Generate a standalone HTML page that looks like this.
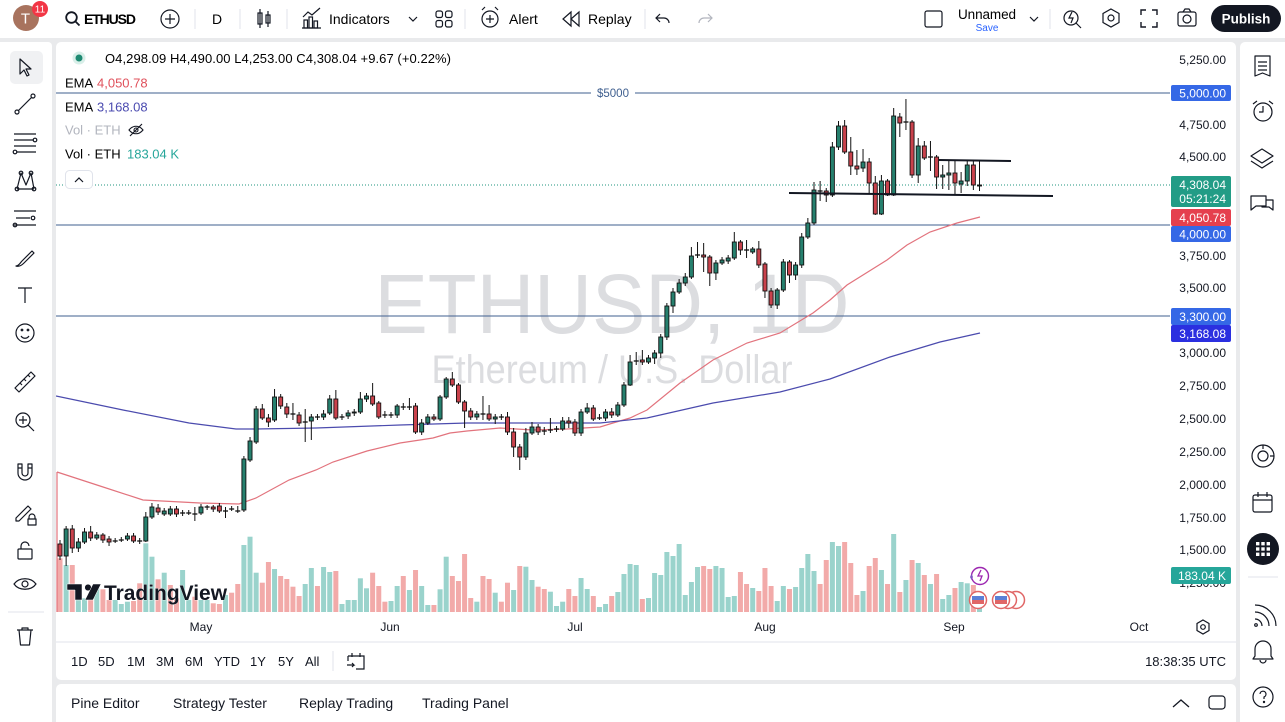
<!DOCTYPE html>
<html><head><meta charset="utf-8">
<style>
*{margin:0;padding:0;box-sizing:border-box}
body{width:1285px;height:722px;overflow:hidden;background:#e9eaec;font-family:"Liberation Sans",Arial,sans-serif;color:#131722;position:relative}
.p{position:absolute;background:#fff}
svg{position:absolute;left:0;top:0}
</style></head><body>
<div class="p" style="left:0;top:0;width:1285px;height:38px"></div>
<div class="p" style="left:0;top:42px;width:52px;height:680px;border-radius:0 4px 0 0"></div>
<div class="p" style="left:56px;top:42px;width:1180px;height:638px;border-radius:5px"></div>
<div class="p" style="left:56px;top:684px;width:1180px;height:38px;border-radius:5px 5px 0 0"></div>
<div class="p" style="left:1240px;top:42px;width:45px;height:680px;border-radius:5px 0 0 0"></div>
<svg width="1285" height="722" viewBox="0 0 1285 722" font-family="Liberation Sans, Arial, sans-serif">
<defs><clipPath id="cp"><rect x="56" y="42" width="1114" height="572"/></clipPath></defs>

<!-- TOP BAR -->
<circle cx="26" cy="18" r="13" fill="#a8735e"/>
<text x="25.5" y="23.5" font-size="15" fill="#fff" text-anchor="middle">T</text>
<circle cx="40" cy="9" r="8" fill="#f23645"/>
<text x="40" y="12.5" font-size="10" fill="#fff" text-anchor="middle">11</text>
<circle cx="71.5" cy="17.5" r="5.3" fill="none" stroke="#131722" stroke-width="1.8"/>
<line x1="75.5" y1="21.5" x2="79.5" y2="25.5" stroke="#131722" stroke-width="1.8"/>
<text x="84" y="24" font-size="14" font-weight="bold" textLength="52">ETHUSD</text>
<circle cx="170" cy="19" r="9" fill="none" stroke="#131722" stroke-width="1.2"/>
<path d="M170 14v10M165 19h10" stroke="#131722" stroke-width="1.2"/>
<g stroke="#e0e3eb" stroke-width="1"><line x1="195" y1="9" x2="195" y2="29"/><line x1="240" y1="9" x2="240" y2="29"/><line x1="287" y1="9" x2="287" y2="29"/><line x1="465" y1="9" x2="465" y2="29"/><line x1="645" y1="9" x2="645" y2="29"/><line x1="1050" y1="9" x2="1050" y2="29"/></g>
<text x="217" y="24" font-size="14" text-anchor="middle">D</text>
<g stroke="#131722" stroke-width="1.2" fill="none"><path d="M260 9v19M268 11v16"/><rect x="258" y="13" width="4" height="11"/><rect x="266" y="15" width="4" height="8"/></g>
<g stroke="#131722" stroke-width="1.2" fill="none"><path d="M303 17l5-5 4 3 8-7"/><rect x="304" y="20" width="3.5" height="8"/><rect x="309" y="17" width="3.5" height="11"/><rect x="314" y="21" width="3.5" height="7"/><path d="M302 28h19"/></g>
<text x="329" y="24" font-size="14">Indicators</text>
<path d="M409 17l4 4 4-4" stroke="#131722" fill="none" stroke-width="1.2"/>
<g stroke="#131722" stroke-width="1.2" fill="none"><rect x="436" y="11" width="6.5" height="6.5" rx="2"/><rect x="445.5" y="11" width="6.5" height="6.5" rx="2"/><rect x="436" y="20.5" width="6.5" height="6.5" rx="2"/><rect x="445.5" y="20.5" width="6.5" height="6.5" rx="2"/></g>
<g stroke="#131722" stroke-width="1.2" fill="none"><circle cx="490" cy="19" r="8"/><path d="M490 15v8M486 19h8M482 10l3-3M498 10l-3-3"/></g>
<text x="509" y="24" font-size="14">Alert</text>
<g stroke="#131722" stroke-width="1.2" fill="none"><path d="M571 12l-8 7 8 7zM579 12l-8 7 8 7z"/></g>
<text x="588" y="24" font-size="14">Replay</text>
<path d="M660 14l-4 4 4 4M656 18h8a5 5 0 0 1 5 5" stroke="#131722" fill="none" stroke-width="1.2"/>
<path d="M708 14l4 4-4 4M712 18h-8a5 5 0 0 0-5 5" stroke="#b2b5be" fill="none" stroke-width="1.2"/>
<rect x="925" y="11" width="17" height="16" rx="2" fill="none" stroke="#131722" stroke-width="1.2"/>
<text x="958" y="19" font-size="13.5" textLength="58">Unnamed</text>
<text x="987" y="31" font-size="10" fill="#2962ff" text-anchor="middle">Save</text>
<path d="M1030 17l4 4 4-4" stroke="#131722" fill="none" stroke-width="1.2"/>
<g stroke="#131722" stroke-width="1.2" fill="none"><circle cx="1071" cy="18" r="7"/><path d="M1076 23l5 5M1072 12l-3 6h4l-2 5"/></g>
<g stroke="#131722" stroke-width="1.2" fill="none"><path d="M1111 9l8 4.5v9l-8 4.5-8-4.5v-9z"/><circle cx="1111" cy="18" r="3"/></g>
<g stroke="#131722" stroke-width="1.4" fill="none"><path d="M1141 15v-5h5M1152 10h5v5M1157 22v5h-5M1146 27h-5v-5"/></g>
<g stroke="#131722" stroke-width="1.2" fill="none"><rect x="1178" y="12" width="18" height="14" rx="2"/><circle cx="1187" cy="19" r="4"/><path d="M1183 12l2-3h4l2 3"/></g>
<rect x="1211" y="5" width="70" height="27" rx="13.5" fill="#131722"/>
<text x="1246" y="23.5" font-size="13.5" font-weight="bold" fill="#fff" text-anchor="middle">Publish</text>

<!-- LEFT TOOLBAR -->
<rect x="10" y="51" width="33" height="33" rx="5" fill="#f0f1f3"/>
<g stroke="#131722" stroke-width="1.2" fill="none" stroke-linejoin="round">
<path d="M20 59v15l4-4 3 6 2-1-3-6h5z"/>
<path d="M18 111l14-14"/><circle cx="17" cy="112" r="2"/><circle cx="33" cy="96" r="2"/>
<path d="M14 134h22M14 140h19M14 146h22M17 152h19"/><circle cx="35" cy="140" r="1.8"/><circle cx="15" cy="152" r="1.8"/>
<path d="M17 189l4-16 5 12 5-12 3 16M17 189l17 0"/><circle cx="17" cy="189" r="1.8"/><circle cx="21" cy="173" r="1.8"/><circle cx="31" cy="173" r="1.8"/><circle cx="34" cy="189" r="1.8"/>
<path d="M14 211h22M16 218h14M14 225h22"/><circle cx="33" cy="218" r="1.8"/><circle cx="15" cy="225" r="1.8"/>
<path d="M16 266c3 0 4-3 6-5l10-10 2 2-10 10c-2 2-5 4-8 3z"/>
<path d="M18 288h14M25 288v15"/>
<circle cx="25" cy="333" r="9"/><circle cx="22" cy="330" r=".8"/><circle cx="28" cy="330" r=".8"/><path d="M21 336c2 3 6 3 8 0"/>
<path d="M15 388l16-16 4 4-16 16zM20 383l2 2M24 379l2 2M28 375l2 2"/>
<circle cx="23" cy="420" r="7"/><path d="M28 425l6 6M23 416v8M19 420h8"/>
<path d="M18 464v9a7 7 0 0 0 14 0v-9h-4v9a3 3 0 0 1-6 0v-9zM18 468h4M28 468h4"/>
<path d="M16 518l12-12 3 3-12 12h-3zM29 519h6v-2a3 3 0 0 0-6 0zM28 519h8v6h-8z"/>
<rect x="18" y="549" width="14" height="10" rx="1"/><path d="M21 549v-3a4 4 0 0 1 8 0"/>
<path d="M14 584c5-7 17-7 22 0-5 7-17 7-22 0z"/><circle cx="25" cy="584" r="3"/>
<path d="M17 630h16M22 630v-2h6v2M19 630l1.5 15h9l1.5-15"/>
</g>
<line x1="8" y1="612" x2="44" y2="612" stroke="#e0e3eb"/>

<!-- RIGHT SIDEBAR -->
<g stroke="#131722" stroke-width="1.2" fill="none" stroke-linejoin="round">
<path d="M1255 56h15v20l-7.5-3-7.5 3zM1258 62h9M1258 66h9M1258 70h9"/>
<circle cx="1263" cy="112" r="9"/><path d="M1263 106v6h-4M1253 104l4-3M1273 104l-4-3"/>
<path d="M1262 149l11 7-11 7-11-7zM1251 161l11 7 11-7"/>
<path d="M1251 196h15v10h-10l-5 4zM1266 200h7v10l-4-3h-7v-1"/>
<circle cx="1263" cy="456" r="11"/><circle cx="1263" cy="456" r="5"/><path d="M1263 445v4M1274 456h-4"/>
<rect x="1253" y="495" width="19" height="17" rx="2"/><path d="M1253 500h19M1258 492v5M1267 492v5"/>
<path d="M1255 612a14 14 0 0 1 14 14M1255 605a21 21 0 0 1 21 21M1255 619a7 7 0 0 1 7 7"/><circle cx="1256" cy="625" r="1.3"/>
<path d="M1255 656v-7a8 8 0 0 1 16 0v7l2 3h-20zM1260 660a3 3 0 0 0 6 0"/>
<circle cx="1263" cy="697" r="10"/><path d="M1260 694a3 3 0 1 1 4 3v2"/><circle cx="1264" cy="702" r=".6"/>
</g>
<circle cx="1263" cy="549" r="16" fill="#131722"/>
<g fill="#fff"><rect x="1256" y="542" width="3.4" height="3.4"/><rect x="1261.3" y="542" width="3.4" height="3.4"/><rect x="1266.6" y="542" width="3.4" height="3.4"/><rect x="1256" y="547.3" width="3.4" height="3.4"/><rect x="1261.3" y="547.3" width="3.4" height="3.4"/><rect x="1266.6" y="547.3" width="3.4" height="3.4"/><rect x="1256" y="552.6" width="3.4" height="3.4"/><rect x="1261.3" y="552.6" width="3.4" height="3.4"/><rect x="1266.6" y="552.6" width="3.4" height="3.4"/></g>
<line x1="1248" y1="577" x2="1278" y2="577" stroke="#e0e3eb"/>

<!-- CHART -->
<g clip-path="url(#cp)">
<text x="612" y="333" font-size="84" fill="#dcdde0" text-anchor="middle" textLength="475" lengthAdjust="spacingAndGlyphs">ETHUSD, 1D</text>
<text x="612" y="383" font-size="40" fill="#dcdde0" text-anchor="middle" textLength="361" lengthAdjust="spacingAndGlyphs">Ethereum / U.S. Dollar</text>
<g id="vol"></g>
<g stroke="#3f5f8f" stroke-width="1"><line x1="56" y1="93" x2="591" y2="93"/><line x1="635" y1="93" x2="1170" y2="93"/><line x1="56" y1="225" x2="1170" y2="225"/><line x1="56" y1="316" x2="1170" y2="316"/></g>
<text x="613" y="97" font-size="11.5" fill="#3f5f8f" text-anchor="middle">$5000</text>
<line x1="56" y1="185" x2="1170" y2="185" stroke="#22957f" stroke-width="1" stroke-dasharray="1 2"/>
<line x1="57" y1="472" x2="57" y2="612" stroke="#e2737d" stroke-width="1.2"/>
<polyline fill="none" stroke="#e2737d" stroke-width="1.2" points="57,472 100,486 143,500 200,503 239,504 256,498 289,480 316,470 333,462 367,451 400,443 420,440 433,438 450,433 467,431 500,428 533,430 567,429 600,427 613,423 630,418 647,410 680,383 713,360 747,343 780,333 813,313 830,300 847,285 887,260 907,245 930,232 957,223 980,217"/>
<polyline fill="none" stroke="#4b4bae" stroke-width="1.2" points="56,396 123,410 189,423 236,429 256,429 316,428 400,425 467,423 533,423 600,423 647,418 713,403 780,392 830,379 890,357 940,342 980,333"/>
<g id="cdl"></g>
<line x1="789" y1="193" x2="1053" y2="196" stroke="#131722" stroke-width="2"/>
<line x1="939" y1="160" x2="1011" y2="161" stroke="#131722" stroke-width="2"/>
<!-- logo -->
<g fill="#131722" stroke="#fff" stroke-width="0.5">
<path d="M67 584h15v16h-7v-10h-8z"/><circle cx="88" cy="587.5" r="3.3"/><path d="M93 584h8l-8 16h-8z"/>
</g>
<text x="104" y="600" font-size="21" font-weight="bold" fill="#131722" textLength="123" lengthAdjust="spacingAndGlyphs" stroke="#fff" stroke-width="0.4" paint-order="stroke">TradingView</text>
<!-- event icons -->
<circle cx="980" cy="576" r="8.5" fill="#fff" stroke="#9c27b0" stroke-width="1.4"/>
<path d="M981 570l-3 6h4l-2 5" stroke="#9c27b0" fill="none" stroke-width="1.3"/>
<path d="M970 577l1.5-3 1.5 3-1.5 3z" fill="#7e57c2"/>
<g stroke="#e06666" stroke-width="1.5" fill="#fff">
<circle cx="1016" cy="600" r="8.5"/><circle cx="1008" cy="600" r="8.5"/><circle cx="1001" cy="600" r="8.5"/><circle cx="978" cy="600" r="8.5"/></g>
<g><rect x="972" y="596" width="12" height="4" fill="#5b7fd6"/><rect x="972" y="600" width="12" height="4" fill="#e06666"/><rect x="995" y="596" width="12" height="4" fill="#5b7fd6"/><rect x="995" y="600" width="12" height="4" fill="#e06666"/></g>
</g>

<!-- legend -->
<circle cx="79" cy="58" r="6.5" fill="#d9efe9"/><circle cx="79" cy="58" r="3.5" fill="#1e8a72"/>
<text x="105" y="63" font-size="13" textLength="346">O4,298.09 H4,490.00 L4,253.00 C4,308.04 +9.67 (+0.22%)</text>
<text x="65" y="87.5" font-size="13">EMA</text><text x="97" y="87.5" font-size="13" fill="#e0505b">4,050.78</text>
<text x="65" y="111.5" font-size="13">EMA</text><text x="97" y="111.5" font-size="13" fill="#4b4bb0">3,168.08</text>
<text x="65" y="134.5" font-size="13" fill="#b2b5be">Vol · ETH</text>
<g stroke="#131722" stroke-width="1.1" fill="none"><path d="M129 130c4-5 10-5 14 0-4 5-10 5-14 0z"/><circle cx="136" cy="130" r="2"/><path d="M130 136l12-12"/></g>
<text x="65" y="158.5" font-size="13">Vol · ETH</text><text x="127" y="158.5" font-size="13" fill="#26a69a">183.04 K</text>
<rect x="65.5" y="170.5" width="27" height="18" rx="4" fill="#fff" stroke="#e0e3eb"/>
<path d="M75 182l4-4 4 4" stroke="#131722" fill="none" stroke-width="1.2"/>

<!-- price axis -->
<g font-size="12" fill="#131722" text-anchor="end">
<text x="1226" y="64">5,250.00</text><text x="1226" y="129">4,750.00</text><text x="1226" y="161">4,500.00</text>
<text x="1226" y="260">3,750.00</text><text x="1226" y="292">3,500.00</text><text x="1226" y="357">3,000.00</text>
<text x="1226" y="390">2,750.00</text><text x="1226" y="423">2,500.00</text><text x="1226" y="456">2,250.00</text>
<text x="1226" y="489">2,000.00</text><text x="1226" y="522">1,750.00</text><text x="1226" y="554">1,500.00</text><text x="1226" y="587">1,250.00</text>
</g>
<g font-size="12" fill="#fff" text-anchor="end">
<rect x="1171" y="85" width="60" height="16" rx="2" fill="#3568e6"/><text x="1226" y="97.5">5,000.00</text>
<rect x="1171" y="176" width="60" height="31" rx="2" fill="#229c86"/><text x="1226" y="189">4,308.04</text><text x="1226" y="203">05:21:24</text>
<rect x="1171" y="209" width="60" height="17" rx="2" fill="#e5404e"/><text x="1226" y="222">4,050.78</text>
<rect x="1171" y="226" width="60" height="16" rx="2" fill="#3568e6"/><text x="1226" y="238.5">4,000.00</text>
<rect x="1171" y="308" width="60" height="17" rx="2" fill="#3568e6"/><text x="1226" y="321">3,300.00</text>
<rect x="1171" y="325" width="60" height="17" rx="2" fill="#2b2fe0"/><text x="1226" y="338">3,168.08</text>
<rect x="1171" y="567" width="60" height="17" rx="2" fill="#26a69a"/><text x="1226" y="580">183.04 K</text>
</g>

<!-- time axis -->
<g font-size="12" fill="#131722" text-anchor="middle">
<text x="201" y="631">May</text><text x="390" y="631">Jun</text><text x="575" y="631">Jul</text><text x="765" y="631">Aug</text><text x="954" y="631">Sep</text><text x="1139" y="631">Oct</text>
</g>
<g stroke="#131722" stroke-width="1.2" fill="none"><path d="M1203 620l6 3.5v7l-6 3.5-6-3.5v-7z"/><circle cx="1203" cy="627" r="2.3"/></g>
<line x1="56" y1="642" x2="1236" y2="642" stroke="#e0e3eb"/>

<!-- timeframe row -->
<g font-size="13" fill="#131722">
<text x="71" y="666">1D</text><text x="98" y="666">5D</text><text x="127" y="666">1M</text><text x="156" y="666">3M</text><text x="185" y="666">6M</text><text x="214" y="666">YTD</text><text x="250" y="666">1Y</text><text x="278" y="666">5Y</text><text x="305" y="666">All</text>
<text x="1226" y="666" text-anchor="end">18:38:35 UTC</text>
</g>
<line x1="333" y1="651" x2="333" y2="671" stroke="#e0e3eb"/>
<g stroke="#131722" stroke-width="1.2" fill="none"><path d="M348 656h16v13h-8M348 656v5M352 653v4M360 653v4M347 665h7l-2-2M354 665l-2 2"/></g>

<!-- bottom panel -->
<g font-size="14" fill="#131722">
<text x="71" y="708">Pine Editor</text><text x="173" y="708">Strategy Tester</text><text x="299" y="708">Replay Trading</text><text x="422" y="708">Trading Panel</text>
</g>
<path d="M1173 707l8-7 8 7" stroke="#131722" fill="none" stroke-width="1.3"/>
<rect x="1209" y="696" width="16" height="13" rx="3" fill="none" stroke="#131722" stroke-width="1.2"/>
</svg>
<script>
const C=[[0,544,556,540,560],[1,529,556,526,566],[0,529,548,525,553],[1,542,548,538,552],[1,532,542,528,544],[0,532,538,526,541],[1,535,538,532,540],[0,535,540,533,543],[0,539,542,536,546],[2,541,541,538,543],
[2,540,540,537,542],[1,536,539,533,541],[0,536,541,533,543],[2,541,541,538,544],[1,517,541,512,542],[1,507,517,503,519],[0,508,512,504,515],[1,511,514,508,516],[1,509,514,506,516],[0,509,514,506,517],
[2,513,513,510,516],[2,513,513,510,515],[2,514,514,507,521],[1,507,513,504,515],[2,507,507,505,510],[0,507,509,505,512],[0,506,511,503,513],[2,511,511,507,518],[2,509,509,506,511],[2,511,511,506,513],
[1,459,510,456,512],[1,441,460,437,462],[1,409,442,406,444],[0,409,418,404,420],[0,418,422,414,427],[1,397,420,389,422],[0,397,406,394,409],[0,407,414,403,418],[2,414,414,403,420],[0,415,423,412,426],
[2,422,422,409,442],[1,417,421,414,440],[2,417,417,414,420],[1,414,417,410,420],[1,399,413,395,415],[0,399,418,390,420],[2,417,417,414,420],[1,413,416,410,419],[1,412,413,409,416],[1,399,412,392,414],
[1,396,399,393,402],[0,396,404,383,406],[0,403,417,401,419],[2,415,415,411,418],[2,415,415,412,418],[1,406,415,404,418],[2,407,407,403,410],[2,407,407,398,410],[0,406,432,403,434],[1,423,432,419,435],
[1,417,423,414,425],[0,417,419,414,421],[1,397,419,395,421],[1,379,397,377,399],[0,379,385,372,387],[0,385,402,383,404],[0,402,411,400,428],[0,411,417,408,420],[1,414,417,411,420],[2,414,414,396,420],
[0,414,419,405,421],[1,417,419,414,424],[2,417,417,414,420],[0,417,432,412,435],[0,432,447,428,457],[0,447,457,444,470],[1,433,457,428,460],[1,427,433,422,435],[0,427,432,424,435],[2,431,431,427,435],
[2,430,430,418,433],[2,429,429,426,432],[1,421,429,417,431],[0,421,423,417,428],[0,422,433,419,436],[1,412,433,409,436],[1,408,412,403,414],[0,408,419,405,421],[2,418,418,414,420],[1,412,418,409,421],
[0,412,415,408,418],[1,405,415,402,417],[1,385,405,382,407],[1,362,385,355,386],[2,361,361,352,365],[0,360,362,350,365],[1,358,362,355,364],[1,353,358,350,364],[1,337,353,334,358],[1,306,337,303,340],
[1,292,306,288,313],[1,283,292,279,294],[1,277,283,273,286],[1,256,277,247,279],[2,255,255,242,258],[0,255,257,243,272],[0,257,273,255,286],[1,263,273,260,280],[1,260,263,257,265],[1,258,261,255,264],
[1,242,258,232,260],[0,242,250,240,255],[2,250,250,240,258],[1,249,252,247,254],[0,249,265,241,268],[0,264,291,262,298],[0,291,305,288,308],[1,290,305,288,309],[1,262,290,259,292],[0,262,275,260,283],
[1,265,275,262,280],[1,237,265,233,268],[1,223,237,218,239],[1,190,223,182,225],[2,191,191,181,201],[0,191,195,188,202],[1,147,195,142,197],[1,126,147,121,150],[0,126,152,120,154],[0,152,166,137,175],
[0,166,169,150,175],[1,162,168,149,172],[0,162,183,158,193],[0,183,214,176,215],[1,181,214,175,215],[0,181,195,179,196],[1,116,195,108,196],[0,117,123,113,137],[2,122,122,99,130],[0,122,175,120,178],
[1,146,175,138,183],[0,146,158,141,160],[2,157,157,141,171],[0,157,177,155,189],[1,175,177,165,189],[1,173,175,160,190],[0,173,183,160,194],[1,181,184,172,193],[1,165,181,160,186],[0,165,185,160,190],
[1,185,186,160,191]];
const V="85r,105g,105r,190g,205g,205r,175g,178r,210r,210g,222g,215g,213r,160r,40g,80g,148r,128g,165r,205r,120g,210g,200r,210g,210g,220r,222r,195g,188r,162r,45g,20g,128g,158r,96r,117g,138r,147r,170r,198r,162g,114g,168r,111g,126g,123r,222g,210g,210g,145g,175g,128r,168r,215r,213g,168g,138r,180g,120r,168g,225g,225r,178g,80g,138r,153r,72r,204r,215g,138r,147r,188g,215r,158r,180g,108r,110g,150g,170r,177r,185g,228g,215g,177r,198r,144g,177g,198r,231g,222g,198r,186g,132g,102g,105g,207r,204g,129g,135g,66g,78g,42g,195g,156g,111g,108r,117r,108g,114g,201g,198g,126r,162r,174g,183r,114r,168r,213g,168g,177r,171g,114g,72g,123g,162r,90r,36g,48g,36r,99r,195r,183g,108r,84r,120g,162r,12g,186r,150g,90r,99g,135r,162g,132r,207g,195g,174r,156g,160g,165r,210g".split(",");
let v="";V.forEach((s,i)=>{const x=60+i*6.13,z=parseFloat(s),c=s.slice(-1)=="g"?"#9ad3cc":"#f2aaa9",t=530+z/3;v+='<rect x="'+(x-2.5).toFixed(2)+'" y="'+t.toFixed(1)+'" width="5" height="'+(612-t).toFixed(1)+'" fill="'+c+'"/>';});
document.getElementById("vol").innerHTML=v;
let s="";C.forEach((c,i)=>{const x=(60+i*6.13).toFixed(2);const[t,a,b,h,l]=c;
s+='<line x1="'+x+'" y1="'+h+'" x2="'+x+'" y2="'+l+'" stroke="#111" stroke-width="1"/>';
if(t==2){s+='<line x1="'+(x-2.5)+'" y1="'+a+'" x2="'+(+x+2.5)+'" y2="'+a+'" stroke="#111" stroke-width="1.3"/>';}
else{s+='<rect x="'+(x-2)+'" y="'+a+'" width="4" height="'+Math.max(b-a,1)+'" fill="'+(t?"#26806e":"#c9424c")+'" stroke="#111" stroke-width="0.9"/>';}});
document.getElementById("cdl").innerHTML=s;
</script>
</body></html>
